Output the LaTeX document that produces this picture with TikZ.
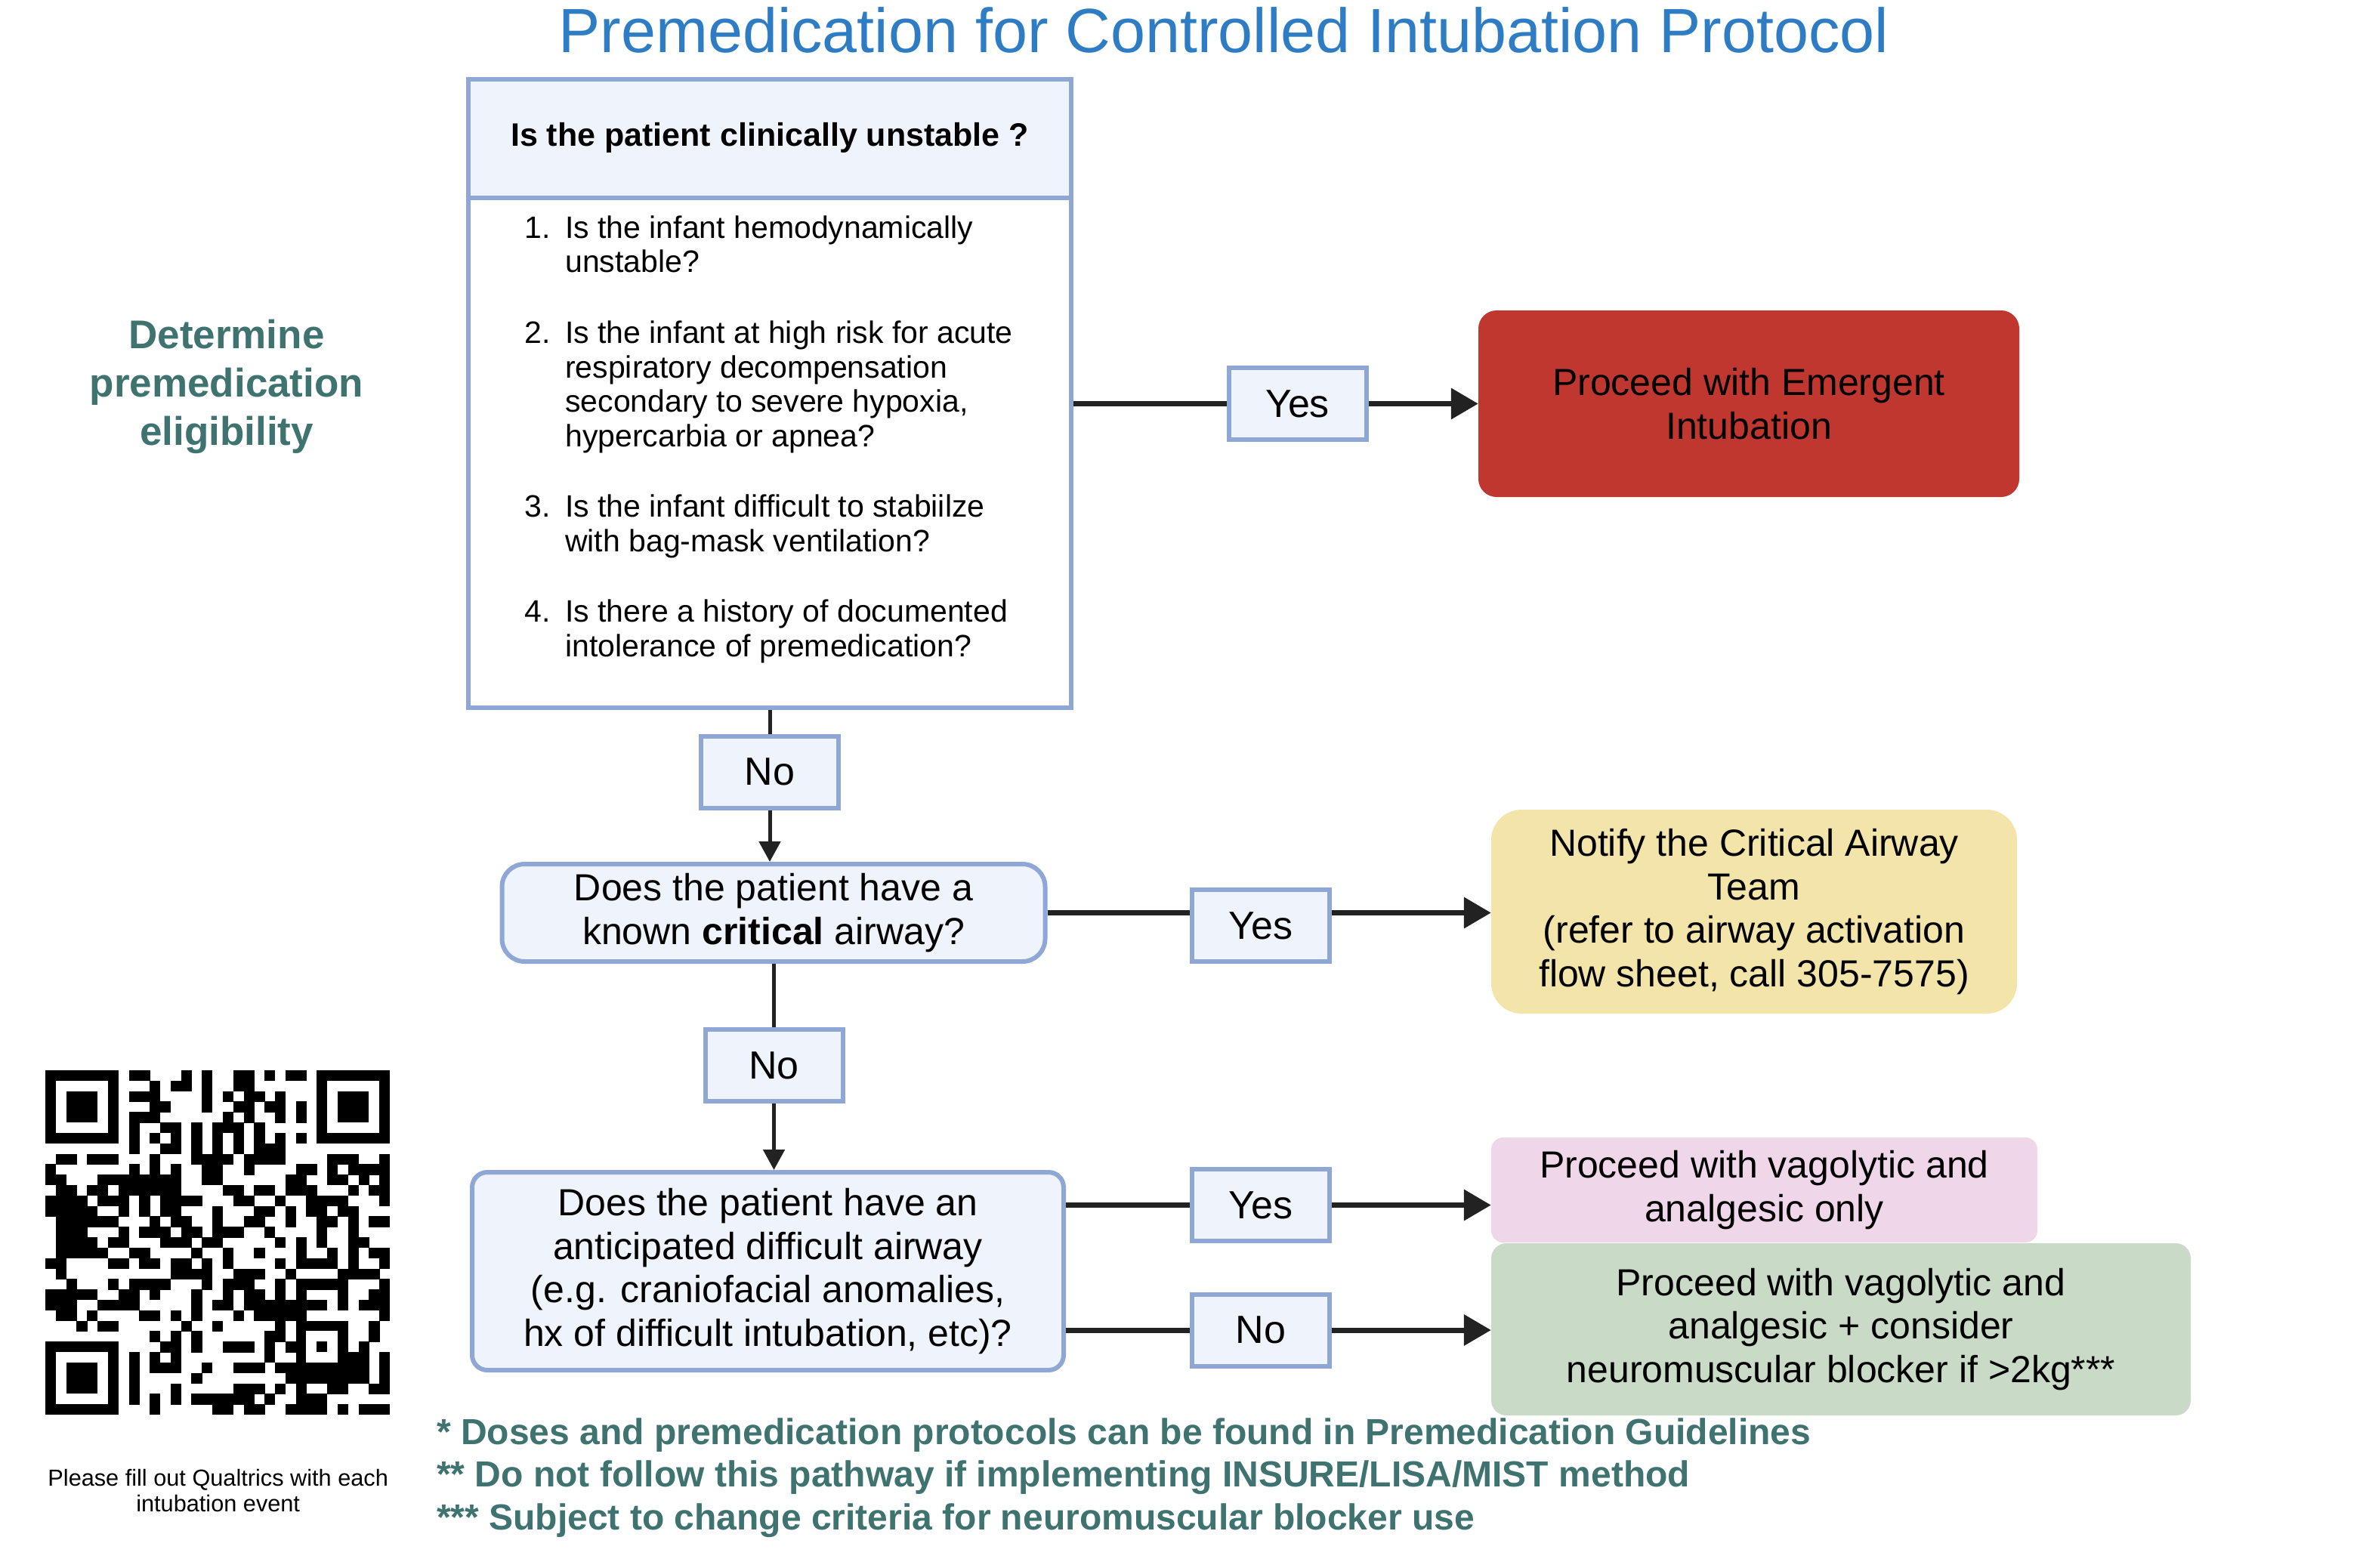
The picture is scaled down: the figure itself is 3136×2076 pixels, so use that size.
\documentclass[tikz,border=0pt]{standalone}
\usepackage{fontspec}
\setmainfont{Liberation Sans}
\usetikzlibrary{arrows.meta}
\definecolor{bord}{RGB}{143,167,212}
\definecolor{boxfill}{RGB}{238,243,252}
\definecolor{redbox}{RGB}{192,55,48}
\definecolor{yelbox}{RGB}{243,229,170}
\definecolor{pinkbox}{RGB}{239,214,233}
\definecolor{greenbox}{RGB}{201,219,199}
\definecolor{teal}{RGB}{62,115,112}
\definecolor{titleblue}{RGB}{46,125,196}
\definecolor{arr}{RGB}{34,34,34}
\tikzset{
  qbox/.style={draw=bord, fill=boxfill, line width=6pt},
  yn/.style={qbox, minimum width=182pt, minimum height=95pt, inner sep=0pt,
    font=\fontsize{52}{60}\selectfont},
  boxtxt/.style={align=center, inner sep=0pt, font=\fontsize{50}{57.5}\selectfont},
  outbox/.style={boxtxt, draw=none},
  listtxt/.style={inner sep=0pt, anchor=base west, font=\fontsize{41}{45.6}\selectfont},
  foot/.style={inner sep=0pt, anchor=base west, text=teal, font=\fontsize{48}{58}\selectfont\bfseries},
  hline/.style={line width=7pt, draw=arr},
  harrow/.style={line width=7pt, draw=arr, -{Triangle[length=36pt,width=40pt]}},
  vline/.style={line width=5pt, draw=arr},
  varrow/.style={line width=5pt, draw=arr, -{Triangle[length=27pt,width=28pt]}},
}
\begin{document}
\begin{tikzpicture}[x=1pt,y=-1pt]
\useasboundingbox (0,0) rectangle (3136,2076);
\fill[white] (0,0) rectangle (3136,2076);

% title
\node[inner sep=0pt, anchor=base, text=titleblue, font=\fontsize{82.7}{90}\selectfont] (title) at (1620,70) {Premedication for Controlled Intubation Protocol};

% left label
\node[inner sep=0pt, align=center, text=teal, font=\fontsize{53}{64}\selectfont\bfseries] (elig) at (300,511.5) {Determine\\premedication\\eligibility};

% main question box
\node[draw=bord, fill=white, line width=6pt, minimum width=798pt, minimum height=832pt, inner sep=0pt] (main) at (1019,521) {};
\node[qbox, minimum width=798pt, minimum height=157pt, inner sep=0pt] (hdr) at (1019,183.5) {};
\node[inner sep=0pt, anchor=base, font=\fontsize{43}{50}\selectfont\bfseries] (hdrtxt) at (1019,194) {Is the patient clinically unstable ?};

\node[listtxt] (n1) at (694,315) {1.};
\node[listtxt] (l1a) at (748,315) {Is the infant hemodynamically};
\node[listtxt] (l1b) at (748,360) {unstable?};
\node[listtxt] (n2) at (694,454) {2.};
\node[listtxt] (l2a) at (748,454) {Is the infant at high risk for acute};
\node[listtxt] (l2b) at (748,500) {respiratory decompensation};
\node[listtxt] (l2c) at (748,545) {secondary to severe hypoxia,};
\node[listtxt] (l2d) at (748,591) {hypercarbia or apnea?};
\node[listtxt] (n3) at (694,684) {3.};
\node[listtxt] (l3a) at (748,684) {Is the infant difficult to stabiilze};
\node[listtxt] (l3b) at (748,730) {with bag-mask ventilation?};
\node[listtxt] (n4) at (694,823) {4.};
\node[listtxt] (l4a) at (748,823) {Is there a history of documented};
\node[listtxt] (l4b) at (748,869) {intolerance of premedication?};

% yes / no labels
\node[yn] (yes1) at (1717.5,534.5) {Yes};
\node[yn] (no1) at (1019,1022) {No};
\node[yn] (yes2) at (1669,1225.5) {Yes};
\node[yn] (no2) at (1024.5,1410.5) {No};
\node[yn] (yes3) at (1669,1595.5) {Yes};
\node[yn] (no3) at (1669,1761) {No};

% outcome boxes
\node[outbox, fill=redbox, rounded corners=24pt, minimum width=716pt, minimum height=247pt] (red) at (2315,534.5) {Proceed with Emergent\\Intubation};
\node[outbox, fill=yelbox, rounded corners=40pt, minimum width=696pt, minimum height=270pt] (yel) at (2322,1207) {Notify the Critical Airway\\Team\\(refer to airway activation\\flow sheet, call 305-7575)};
\node[outbox, fill=pinkbox, rounded corners=16pt, minimum width=723pt, minimum height=139pt] (pink) at (2335.5,1575.5) {Proceed with vagolytic and\\analgesic only};
\node[outbox, fill=greenbox, rounded corners=20pt, minimum width=926pt, minimum height=228pt] (green) at (2437,1760) {Proceed with vagolytic and\\analgesic + consider\\neuromuscular blocker if >2kg***};

% question boxes
\node[qbox, boxtxt, rounded corners=30pt, minimum width=719pt, minimum height=129pt] (crit) at (1024,1208.5) {Does the patient have a\\known \textbf{critical} airway?};
\node[qbox, boxtxt, rounded corners=20pt, minimum width=783pt, minimum height=262pt] (diff) at (1016.5,1683) {Does the patient have an\\anticipated difficult airway\\(e.g. craniofacial anomalies,\\hx of difficult intubation, etc)?};

% connectors
\draw[hline] (yes1.west -| main.east) -- (yes1.west);
\draw[harrow] (yes1.east) -- (yes1.east -| red.west);
\draw[vline] (main.south) -- (no1.north);
\draw[varrow] (no1.south) -- (no1.south |- crit.north);
\draw[hline] (crit.east) -- (crit.east -| yes2.west);
\draw[harrow] (crit.east -| yes2.east) -- (crit.east -| yel.west);
\draw[vline] (no2.north |- crit.south) -- (no2.north);
\draw[varrow] (no2.south) -- (no2.south |- diff.north);
\draw[hline] (yes3.west -| diff.east) -- (yes3.west);
\draw[harrow] (yes3.east) -- (yes3.east -| pink.west);
\draw[hline] (no3.west -| diff.east) -- (no3.west);
\draw[harrow] (no3.east) -- (no3.east -| green.west);

% footnotes
\node[foot] (f1) at (578,1912) {* Doses and premedication protocols can be found in Premedication Guidelines};
\node[foot] (f2) at (578,1968) {** Do not follow this pathway if implementing INSURE/LISA/MIST method};
\node[foot] (f3) at (578,2025) {*** Subject to change criteria for neuromuscular blocker use};

% QR code (approximation)
\def\qx{60}\def\qy{1417}\def\qm{13.818}
\pgfmathsetseed{2024}
\foreach \r in {0,...,32}{
  \foreach \c in {0,...,32}{
    \pgfmathtruncatemacro\sk{((\r<8)&&(\c<8))||((\r<8)&&(\c>24))||((\r>24)&&(\c<8))||((\r>23)&&(\r<29)&&(\c>23)&&(\c<29))||(\r==6)||(\c==6)}
    \pgfmathtruncatemacro\bt{rnd<0.5}
    \ifnum\sk=0 \ifnum\bt=1
      \fill[black] ({\qx+\c*\qm},{\qy+\r*\qm}) rectangle ++({\qm+0.4},{\qm+0.4});
    \fi\fi
  }
}
\foreach \c in {8,10,...,24}{
  \fill[black] ({\qx+\c*\qm},{\qy+6*\qm}) rectangle ++({\qm+0.4},{\qm+0.4});
  \fill[black] ({\qx+6*\qm},{\qy+\c*\qm}) rectangle ++({\qm+0.4},{\qm+0.4});
}
\foreach \fx/\fy in {0/0,26/0,0/26}{
  \fill[black] ({\qx+\fx*\qm},{\qy+\fy*\qm}) rectangle ++({7*\qm},{7*\qm});
  \fill[white] ({\qx+(\fx+1)*\qm},{\qy+(\fy+1)*\qm}) rectangle ++({5*\qm},{5*\qm});
  \fill[black] ({\qx+(\fx+2)*\qm},{\qy+(\fy+2)*\qm}) rectangle ++({3*\qm},{3*\qm});
}
\fill[black] ({\qx+24*\qm},{\qy+24*\qm}) rectangle ++({5*\qm},{5*\qm});
\fill[white] ({\qx+25*\qm},{\qy+25*\qm}) rectangle ++({3*\qm},{3*\qm});
\fill[black] ({\qx+26*\qm},{\qy+26*\qm}) rectangle ++({\qm},{\qm});

\node[inner sep=0pt, align=center, font=\fontsize{30.7}{34}\selectfont] (qrcap) at (288.7,1974) {Please fill out Qualtrics with each\\intubation event};
\end{tikzpicture}
\end{document}
